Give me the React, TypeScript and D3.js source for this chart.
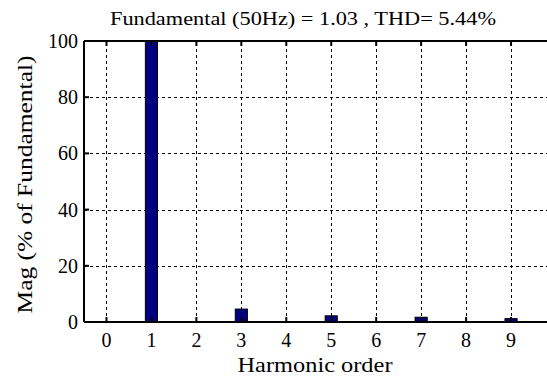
import React, { useEffect, useRef } from "react";
import * as d3 from "d3";

const orders = [0, 1, 2, 3, 4, 5, 6, 7, 8, 9];
const magnitudes = [0, 100, 0, 4.6, 0, 2.2, 0, 1.7, 0, 1.2];
const yTicks = [0, 20, 40, 60, 80, 100];
const title = "Fundamental (50Hz) = 1.03 , THD= 5.44%";

const size = { width: 547, height: 380 };
const margin = { top: 41, bottom: 58, left: 84, right: -9 };

const font = "'Times New Roman', Times, 'Liberation Serif', serif";

export default function App() {
  const ref = useRef<SVGSVGElement>(null);

  useEffect(() => {
    const svg = d3.select(ref.current);
    svg.selectAll("*").remove();

    const x = d3.scaleLinear()
      .domain([-0.5, 10])
      .range([margin.left, size.width - margin.right]);
    const y = d3.scaleLinear()
      .domain([0, 100])
      .range([size.height - margin.bottom, margin.top]);

    const bw = (x(1) - x(0)) * 0.27;

    // grid
    const grid = svg.append("g")
      .attr("stroke", "#000")
      .attr("stroke-width", 1)
      .attr("stroke-dasharray", "3,3");
    grid.selectAll("line.v")
      .data(orders)
      .join("line")
      .attr("x1", (d) => Math.round(x(d)) + 0.5)
      .attr("x2", (d) => Math.round(x(d)) + 0.5)
      .attr("y1", y(0))
      .attr("y2", y(100));
    grid.selectAll("line.h")
      .data(yTicks.slice(1, -1))
      .join("line")
      .attr("class", "h")
      .attr("x1", x(-0.5))
      .attr("x2", x(10))
      .attr("y1", (d) => Math.round(y(d)) + 0.5)
      .attr("y2", (d) => Math.round(y(d)) + 0.5);

    // bars
    svg.append("g")
      .selectAll("rect")
      .data(orders.filter((o) => magnitudes[o] > 0))
      .join("rect")
      .attr("x", (d) => x(d) - bw / 2)
      .attr("y", (d) => y(magnitudes[d]))
      .attr("width", bw)
      .attr("height", (d) => y(0) - y(magnitudes[d]))
      .attr("fill", "#000080")
      .attr("stroke", "#000")
      .attr("stroke-width", 1);

    // frame
    const frame = svg.append("g").attr("stroke", "#000").attr("stroke-width", 2).attr("fill", "none");
    frame.append("line").attr("x1", x(-0.5)).attr("x2", x(10)).attr("y1", y(0)).attr("y2", y(0));
    frame.append("line").attr("x1", x(-0.5)).attr("x2", x(10)).attr("y1", y(100)).attr("y2", y(100));
    frame.append("line").attr("x1", x(-0.5)).attr("x2", x(-0.5)).attr("y1", y(0)).attr("y2", y(100));

    // inward ticks
    const ticks = svg.append("g").attr("stroke", "#000").attr("stroke-width", 2);
    orders.forEach((o) => {
      ticks.append("line").attr("x1", x(o)).attr("x2", x(o)).attr("y1", y(0)).attr("y2", y(0) - 5);
      ticks.append("line").attr("x1", x(o)).attr("x2", x(o)).attr("y1", y(100)).attr("y2", y(100) + 5);
    });
    yTicks.forEach((t) => {
      ticks.append("line").attr("x1", x(-0.5)).attr("x2", x(-0.5) + 5).attr("y1", y(t)).attr("y2", y(t));
    });

    // tick labels
    svg.append("g")
      .attr("font-family", font)
      .attr("font-size", 20)
      .attr("text-anchor", "middle")
      .selectAll("text")
      .data(orders)
      .join("text")
      .attr("x", (d) => x(d))
      .attr("y", y(0) + 25)
      .text((d) => d);

    svg.append("g")
      .attr("font-family", font)
      .attr("font-size", 20)
      .attr("text-anchor", "end")
      .selectAll("text")
      .data(yTicks)
      .join("text")
      .attr("x", x(-0.5) - 6)
      .attr("y", (d) => y(d) + 7)
      .text((d) => d);

    svg.append("text")
      .attr("x", 303)
      .attr("y", 25)
      .attr("text-anchor", "middle")
      .attr("font-family", font)
      .attr("font-size", 19)
      .attr("textLength", 386)
      .attr("lengthAdjust", "spacingAndGlyphs")
      .text(title);

    svg.append("text")
      .attr("x", 315)
      .attr("y", 372)
      .attr("text-anchor", "middle")
      .attr("font-family", font)
      .attr("font-size", 21)
      .attr("textLength", 155)
      .attr("lengthAdjust", "spacingAndGlyphs")
      .text("Harmonic order");

    svg.append("text")
      .attr("transform", `translate(32, ${(y(0) + y(100)) / 2 + 3}) rotate(-90)`)
      .attr("text-anchor", "middle")
      .attr("font-family", font)
      .attr("font-size", 20)
      .attr("textLength", 258)
      .attr("lengthAdjust", "spacingAndGlyphs")
      .text("Mag (% of Fundamental)");
  }, []);

  return (
    <svg
      ref={ref}
      width={size.width}
      height={size.height}
      style={{ position: "absolute", left: 0, top: 0, background: "#fff" }}
    />
  );
}
